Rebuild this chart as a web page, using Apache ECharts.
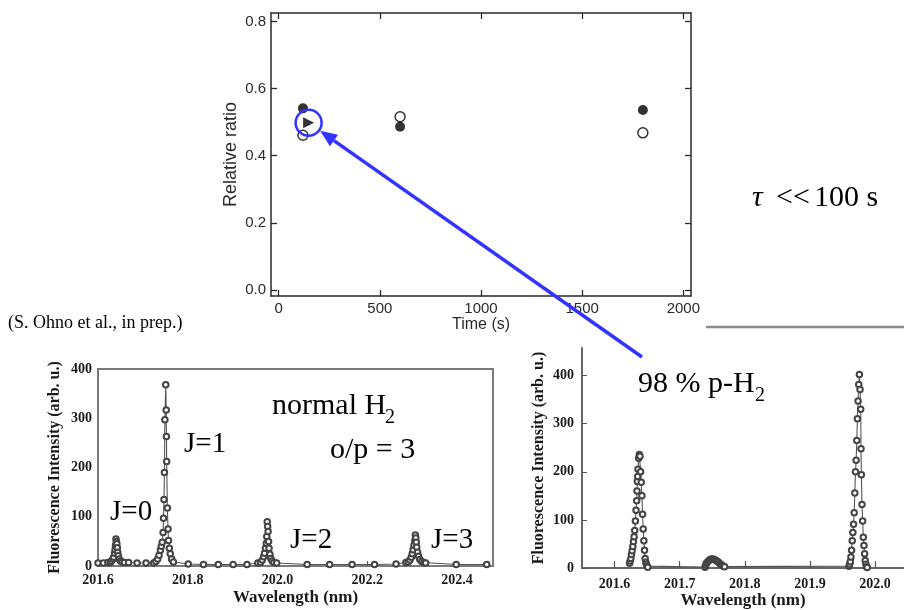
<!DOCTYPE html>
<html>
<head>
<meta charset="utf-8">
<script src="https://cdn.jsdelivr.net/npm/echarts@6/dist/echarts.min.js"></script>
<style>
  html, body { margin: 0; padding: 0; background: #fff; }
  #chart { width: 904px; height: 610px; }
</style>
</head>
<body>
<div id="chart"></div>
<script>
// ---------- ortho / para relative ratio vs storage time ----------
const timeS       = [120, 600, 1800];
const ratioFilled = [0.541, 0.486, 0.536];
const ratioOpen   = [0.461, 0.516, 0.468];
const triTime     = [148];
const triRatio    = [0.498];
const timeTicks   = [0, 500, 1000, 1500, 2000];
const ratioTicks  = [0, 0.2, 0.4, 0.6, 0.8];

// ---------- LIF spectrum of normal H2 (wavelength nm, intensity) ----------
const normalBase = [
  [201.600, 6], [201.612, 6], [201.622, 7], [201.668, 7], [201.687, 6], [201.707, 6],
  [201.724, 6], [201.801, 4], [201.835, 3], [201.868, 3], [201.901, 3], [201.932, 3],
  [201.956, 6], [201.998, 6], [202.066, 3], [202.116, 3], [202.166, 3], [202.216, 3],
  [202.264, 4], [202.286, 7], [202.330, 6], [202.398, 3], [202.466, 3]
];
const normalJ0 = [
  [201.627, 7], [201.630, 10], [201.633, 14], [201.635, 18], [201.637, 26], [201.638, 33],
  [201.639, 42], [201.640, 55], [201.641, 50], [201.642, 45], [201.643, 37], [201.644, 28],
  [201.645, 21], [201.647, 14], [201.650, 10], [201.654, 8], [201.659, 7]
];
const normalJ1 = [
  [201.729, 9], [201.733, 14], [201.736, 22], [201.739, 32], [201.741, 40], [201.743, 48],
  [201.745, 68], [201.746, 97], [201.747, 135], [201.748, 190], [201.749, 297], [201.751, 368],
  [201.752, 317], [201.7525, 263], [201.753, 212], [201.7545, 118], [201.756, 75], [201.757, 52],
  [201.759, 36], [201.761, 25], [201.764, 14], [201.768, 8]
];
const normalJ2 = [
  [201.962, 7], [201.966, 12], [201.969, 19], [201.971, 26], [201.973, 36], [201.975, 46],
  [201.976, 60], [201.977, 90], [201.978, 80], [201.979, 70], [201.980, 50], [201.981, 36],
  [201.983, 24], [201.985, 15], [201.988, 10], [201.992, 7]
];
const normalJ3 = [
  [202.291, 8], [202.295, 12], [202.298, 18], [202.300, 25], [202.302, 33], [202.304, 42],
  [202.306, 52], [202.307, 63], [202.308, 57], [202.309, 48], [202.310, 38], [202.312, 28],
  [202.314, 20], [202.317, 13], [202.321, 9], [202.326, 7]
];
const normalTicks = [201.6, 201.8, 202.0, 202.2, 202.4];
const normalIntTicks = [0, 100, 200, 300, 400];

// ---------- LIF spectrum of 98 % para-H2 ----------
const paraJ0 = [
  [201.623, 10], [201.624, 15], [201.625, 20], [201.626, 28], [201.627, 36], [201.628, 45],
  [201.629, 55], [201.630, 65], [201.631, 78], [201.632, 98], [201.633, 120], [201.634, 140],
  [201.6345, 160], [201.635, 180], [201.6355, 190], [201.636, 205], [201.637, 228], [201.638, 236],
  [201.639, 232], [201.640, 200], [201.641, 178], [201.642, 150], [201.643, 112], [201.644, 81],
  [201.645, 57], [201.646, 37], [201.647, 20], [201.648, 12], [201.649, 8], [201.650, 4], [201.651, 2]
];
const paraJ1 = [
  [201.739, 2], [201.740, 6], [201.741, 10], [201.743, 13], [201.745, 16], [201.747, 18],
  [201.749, 19], [201.751, 19], [201.753, 18], [201.755, 17], [201.757, 15], [201.759, 13],
  [201.761, 10], [201.763, 8], [201.765, 6], [201.767, 4], [201.769, 3]
];
const paraJ2 = [
  [201.960, 4], [201.961, 8], [201.962, 13], [201.963, 23], [201.964, 37], [201.965, 57],
  [201.966, 74], [201.967, 91], [201.968, 115], [201.969, 156], [201.970, 200], [201.971, 224],
  [201.972, 265], [201.973, 310], [201.974, 347], [201.975, 381], [201.976, 402], [201.977, 371],
  [201.978, 330], [201.9785, 248], [201.979, 194], [201.980, 132], [201.981, 98], [201.982, 64],
  [201.983, 47], [201.984, 30], [201.985, 16], [201.986, 8], [201.987, 3], [201.988, 1]
];
const paraTicks = [201.6, 201.7, 201.8, 201.9, 202.0];
const paraIntTicks = [0, 100, 200, 300, 400];

const byX = (a, b) => a[0] - b[0];
const normalData = [].concat(normalBase, normalJ0, normalJ1, normalJ2, normalJ3).sort(byX);
const paraData = [].concat(paraJ0, paraJ1, paraJ2).sort(byX);

const SANS = '"Liberation Sans", Arial, sans-serif';
const SERIF = '"Liberation Serif", "Times New Roman", serif';
const topInk = '#2a2a2a';
const specInk = '#1a1a1a';
const frameGray = '#7a7a7a';

const chart = echarts.init(document.getElementById('chart'), null, { renderer: 'canvas' });

function topAxisX(pos, showLabel) {
  return {
    type: 'value', gridIndex: 0, position: pos, min: -38, max: 2038,
    axisLine: { show: true, onZero: false, lineStyle: { color: topInk, width: 1.5 } },
    axisTick: { show: true, inside: true, length: 6, customValues: timeTicks, lineStyle: { color: topInk, width: 1.3 } },
    axisLabel: { show: showLabel, customValues: timeTicks, margin: 5, fontFamily: SANS, fontSize: 15, color: topInk,
                 formatter: v => String(v) },
    splitLine: { show: false }
  };
}
function topAxisY(pos, showLabel) {
  return {
    type: 'value', gridIndex: 0, position: pos, min: -0.018, max: 0.825,
    axisLine: { show: true, onZero: false, lineStyle: { color: topInk, width: 1.5 } },
    axisTick: { show: true, inside: true, length: 6, customValues: ratioTicks, lineStyle: { color: topInk, width: 1.3 } },
    axisLabel: { show: showLabel, customValues: ratioTicks, margin: 5, fontFamily: SANS, fontSize: 15, color: topInk,
                 formatter: v => v.toFixed(1) },
    splitLine: { show: false }
  };
}

const specLabel = { fontFamily: SERIF, fontWeight: 'bold', fontSize: 14, color: specInk };
const specName = { fontFamily: SERIF, fontWeight: 'bold', fontSize: 17, color: specInk };
const specLine = {
  symbol: 'emptyCircle', symbolSize: 5.5, showAllSymbol: true,
  lineStyle: { color: '#555', width: 1.1 },
  itemStyle: { color: '#444', borderWidth: 0.9 }
};

const option = {
  animation: false,
  backgroundColor: '#ffffff',
  grid: [
    { left: 271, top: 13, width: 420, height: 283 },
    { left: 98, top: 369, width: 395, height: 197, show: true, borderColor: frameGray, borderWidth: 2 },
    { left: 582, top: 348, width: 322, height: 223 }
  ],
  xAxis: [
    Object.assign(topAxisX('bottom', true), {
      name: 'Time (s)', nameLocation: 'middle', nameGap: 19,
      nameTextStyle: { fontFamily: SANS, fontSize: 16, color: topInk }
    }),
    topAxisX('top', false),
    {
      type: 'value', gridIndex: 1, min: 201.6, max: 202.48,
      axisLine: { show: true, onZero: false, lineStyle: { color: frameGray, width: 2 } },
      axisTick: { show: true, inside: true, length: 5, customValues: normalTicks, lineStyle: { color: '#555', width: 1 } },
      axisLabel: Object.assign({ customValues: normalTicks, margin: 7, formatter: v => v.toFixed(1) }, specLabel),
      splitLine: { show: false },
      name: 'Wavelength (nm)', nameLocation: 'middle', nameGap: 23, nameTextStyle: specName
    },
    {
      type: 'value', gridIndex: 2, min: 201.55, max: 202.0445,
      axisLine: { show: true, onZero: false, lineStyle: { color: '#666', width: 2 } },
      axisTick: { show: true, inside: true, length: 7, customValues: paraTicks, lineStyle: { color: '#555', width: 1.2 } },
      axisLabel: Object.assign({ customValues: paraTicks, margin: 9, formatter: v => v.toFixed(1) }, specLabel),
      splitLine: { show: false },
      name: 'Wavelength (nm)', nameLocation: 'middle', nameGap: 22, nameTextStyle: specName
    }
  ],
  yAxis: [
    Object.assign(topAxisY('left', true), {
      name: 'Relative ratio', nameLocation: 'middle', nameGap: 31, nameRotate: 90,
      nameTextStyle: { fontFamily: SANS, fontSize: 18, color: topInk }
    }),
    topAxisY('right', false),
    {
      type: 'value', gridIndex: 1, min: 0, max: 400,
      axisLine: { show: true, onZero: false, lineStyle: { color: frameGray, width: 2 } },
      axisTick: { show: false, customValues: normalIntTicks },
      axisLabel: Object.assign({ customValues: normalIntTicks, margin: 6 }, specLabel),
      splitLine: { show: false },
      name: 'Fluorescence Intensity (arb. u.)', nameLocation: 'middle', nameGap: 35, nameRotate: 90,
      nameTextStyle: Object.assign({}, specName, { fontSize: 16 })
    },
    {
      type: 'value', gridIndex: 2, min: 0, max: 457,
      axisLine: { show: true, onZero: false, lineStyle: { color: '#666', width: 2 } },
      axisTick: { show: true, inside: true, length: 5, customValues: paraIntTicks, lineStyle: { color: '#555', width: 1 } },
      axisLabel: Object.assign({ customValues: paraIntTicks, margin: 8 }, specLabel),
      splitLine: { show: false },
      name: 'Fluorescence Intensity (arb. u.)', nameLocation: 'middle', nameGap: 35, nameRotate: 90,
      nameTextStyle: Object.assign({}, specName, { fontSize: 16 })
    }
  ],
  series: [
    {
      type: 'scatter', xAxisIndex: 0, yAxisIndex: 0,
      data: timeS.map((t, i) => [t, ratioFilled[i]]),
      symbol: 'circle', symbolSize: 10,
      itemStyle: { color: '#000' }
    },
    {
      type: 'scatter', xAxisIndex: 0, yAxisIndex: 0,
      data: timeS.map((t, i) => [t, ratioOpen[i]]),
      symbol: 'circle', symbolSize: 10,
      itemStyle: { color: '#fff', borderColor: '#000', borderWidth: 1.5 }
    },
    {
      type: 'scatter', xAxisIndex: 0, yAxisIndex: 0,
      data: triTime.map((t, i) => [t, triRatio[i]]),
      symbol: 'path://M0,0 L10,5 L0,10 Z', symbolSize: [11, 11],
      itemStyle: { color: '#000' }
    },
    Object.assign({ type: 'line', xAxisIndex: 2, yAxisIndex: 2, data: normalData }, specLine),
    Object.assign({ type: 'line', xAxisIndex: 3, yAxisIndex: 3, data: paraData }, specLine)
  ]
};

chart.setOption(option);

// ---------- annotations ----------
const serifText = (id, x, y, text, size, extra) => ({
  type: 'text', id, x, y, z: 100,
  style: Object.assign({ text, font: size + 'px ' + SERIF, fill: '#000', verticalAlign: 'bottom' }, extra || {})
});
const blue = '#3333ff';
const center = chart.convertToPixel({ gridIndex: 0 }, [triTime[0], triRatio[0]]);
const tail = [642, 357];
const dx = tail[0] - center[0], dy = tail[1] - center[1];
const len = Math.hypot(dx, dy);
const ux = dx / len, uy = dy / len;
const tip = [center[0] + ux * 14, center[1] + uy * 14];
const base = [tip[0] + ux * 17, tip[1] + uy * 17];
const px = -uy * 7, py = ux * 7;

chart.setOption({
  graphic: [
    { type: 'circle', id: 'ring', z: 100, shape: { cx: center[0], cy: center[1], r: 13 },
      style: { fill: 'none', stroke: blue, lineWidth: 2.5 } },
    { type: 'line', id: 'shaft', z: 100, shape: { x1: tail[0], y1: tail[1], x2: base[0], y2: base[1] },
      style: { stroke: blue, lineWidth: 3.5 } },
    { type: 'polygon', id: 'head', z: 100,
      shape: { points: [tip, [base[0] + px, base[1] + py], [base[0] - px, base[1] - py]] },
      style: { fill: blue } },
    { type: 'line', id: 'rule', z: 100, shape: { x1: 706, y1: 327, x2: 904, y2: 327 },
      style: { stroke: '#8c8c8c', lineWidth: 2.5 } },

    serifText('cite', 8, 332, '(S. Ohno et al., in prep.)', 18),

    { type: 'text', id: 'tau', x: 752, y: 213, z: 100,
      style: { text: 'τ', font: 'italic 30px ' + SERIF, fill: '#000', verticalAlign: 'bottom' } },
    serifText('ll', 776, 213, '<<', 30),
    serifText('hund', 814, 213, '100 s', 30),

    serifText('nh', 272, 421, 'normal H', 30),
    serifText('nh2', 385, 428, '2', 20),
    serifText('op', 330, 465, 'o/p = 3', 30),
    serifText('j0', 110, 527, 'J=0', 29),
    serifText('j1', 184, 459, 'J=1', 29),
    serifText('j2', 290, 555, 'J=2', 29),
    serifText('j3', 431, 555, 'J=3', 29),

    serifText('ph', 638, 399, '98 % p-H', 30),
    serifText('ph2', 755, 406, '2', 20)
  ]
});
</script>
</body>
</html>
